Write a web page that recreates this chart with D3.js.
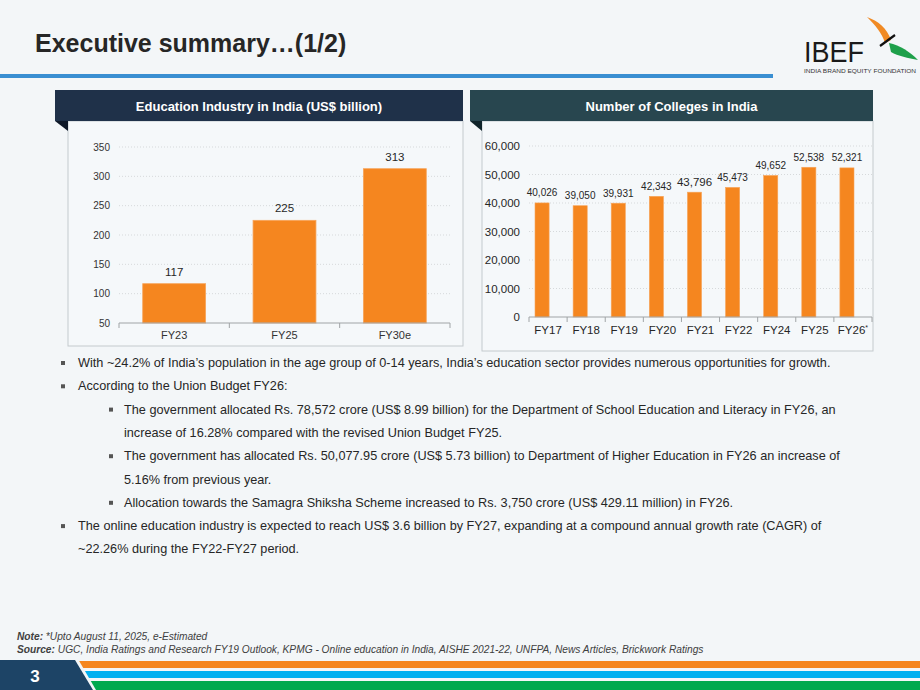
<!DOCTYPE html>
<html>
<head>
<meta charset="utf-8">
<title>Executive summary</title>
<script src="https://d3js.org/d3.v7.min.js"></script>
<style>
  body { margin: 0; background: #f3f6f8; }
  svg { display: block; font-family: "Liberation Sans", Arial, sans-serif; }
</style>
</head>
<body>
<script>
// ---- data ----
var eduCats = ["FY23", "FY25", "FY30e"];
var eduVals = [117, 225, 313];
var eduTicks = [50, 100, 150, 200, 250, 300, 350];

var colCats = ["FY17", "FY18", "FY19", "FY20", "FY21", "FY22", "FY24", "FY25", "FY26*"];
var colVals = [40026, 39050, 39931, 42343, 43796, 45473, 49652, 52538, 52321];
var colTicks = [0, 10000, 20000, 30000, 40000, 50000, 60000];

var bullets = [
  {lvl: 1, lines: ["With ~24.2% of India\u2019s population in the age group of 0-14 years, India\u2019s education sector provides numerous opportunities for growth."]},
  {lvl: 1, lines: ["According to the Union Budget FY26:"]},
  {lvl: 2, lines: ["The government allocated Rs. 78,572 crore (US$ 8.99 billion) for the Department of School Education and Literacy in FY26, an",
                   "increase of 16.28% compared with the revised Union Budget FY25."]},
  {lvl: 2, lines: ["The government has allocated Rs. 50,077.95 crore (US$ 5.73 billion) to Department of Higher Education in FY26 an increase of",
                   "5.16% from previous year."]},
  {lvl: 2, lines: ["Allocation towards the Samagra Shiksha Scheme increased to Rs. 3,750 crore (US$ 429.11 million) in FY26."]},
  {lvl: 1, lines: ["The online education industry is expected to reach US$ 3.6 billion by FY27, expanding at a compound annual growth rate (CAGR) of",
                   "~22.26% during the FY22-FY27 period."]}
];

var w = 920, h = 690;
var orange = "#f5861f";

var svg = d3.select("body").append("svg")
  .attr("width", w)
  .attr("height", h);

svg.append("rect").attr("width", w).attr("height", h).attr("fill", "#f3f6f8");

// ---- title + rule ----
svg.append("text")
  .attr("x", 35).attr("y", 52)
  .attr("font-size", 25).attr("font-weight", "bold")
  .attr("fill", "#262626")
  .text("Executive summary\u2026(1/2)");

svg.append("rect").attr("x", 0).attr("y", 74).attr("width", 773).attr("height", 4).attr("fill", "#3a8fd2");

// ---- logo ----
var logo = svg.append("g");
logo.append("text")
  .attr("x", 804).attr("y", 62)
  .attr("font-size", 29)
  .attr("textLength", 60).attr("lengthAdjust", "spacingAndGlyphs")
  .attr("fill", "#1a1a1a")
  .text("IBEF");
logo.append("text")
  .attr("x", 804).attr("y", 73)
  .attr("font-size", 5.5)
  .attr("textLength", 112).attr("lengthAdjust", "spacingAndGlyphs")
  .attr("fill", "#333")
  .text("INDIA BRAND EQUITY FOUNDATION");
logo.append("path")
  .attr("d", "M867,17 C878,21 887,28 891,40 L885,43 C882,33 875,25 867,17 Z")
  .attr("fill", "#f08a24");
logo.append("path")
  .attr("d", "M889,43 C900,45 910,52 918,60 C908,58 898,56 891,52 Z")
  .attr("fill", "#1ea04a");
logo.append("line")
  .attr("x1", 880).attr("y1", 46).attr("x2", 895).attr("y2", 35)
  .attr("stroke", "#111").attr("stroke-width", 2.2);

// ---- panel helper ----
function panel(hx0, hx1, bx0, by1, title, hdrColor, foldColor) {
  svg.append("rect")
    .attr("x", bx0).attr("y", 121).attr("width", hx1 - bx0).attr("height", by1 - 121)
    .attr("fill", "#f5f8fa").attr("stroke", "#c4cacd").attr("stroke-width", 1);
  svg.append("rect")
    .attr("x", hx0).attr("y", 90).attr("width", hx1 - hx0).attr("height", 31)
    .attr("fill", hdrColor);
  svg.append("path")
    .attr("d", "M" + hx0 + ",121 L" + bx0 + ",121 L" + bx0 + ",131 Z")
    .attr("fill", foldColor);
  svg.append("text")
    .attr("x", (hx0 + hx1) / 2).attr("y", 110.5)
    .attr("text-anchor", "middle")
    .attr("font-size", 13).attr("font-weight", "bold")
    .attr("fill", "#ffffff")
    .text(title);
}

panel(55, 463, 68, 346, "Education Industry in India (US$ billion)", "#1f3149", "#0e1828");
panel(470, 873, 482, 351, "Number of Colleges in India", "#28464f", "#10242a");

// ---- left chart ----
var x1 = d3.scaleBand().domain(eduCats).range([119, 450]).paddingInner(0.43).paddingOuter(0.215);
var y1 = d3.scaleLinear().domain([50, 350]).range([323, 147]);
var step1 = (450 - 119) / eduCats.length;

var g1 = svg.append("g");
g1.selectAll("line.grid")
  .data(eduTicks.slice(1))
  .enter().append("line")
  .attr("class", "grid")
  .attr("x1", 119).attr("x2", 450)
  .attr("y1", function(d) { return y1(d); })
  .attr("y2", function(d) { return y1(d); })
  .attr("stroke", "#d6d9db").attr("stroke-dasharray", "1,2");

var ax1 = g1.append("g")
  .attr("transform", "translate(113,0)")
  .call(d3.axisLeft(y1).tickValues(eduTicks).tickSize(0).tickPadding(3));
ax1.select(".domain").remove();
ax1.selectAll("text").attr("font-size", 10).attr("fill", "#333").attr("font-family", "Liberation Sans, Arial, sans-serif");

g1.selectAll("rect.bar")
  .data(eduVals)
  .enter().append("rect")
  .attr("class", "bar")
  .attr("x", function(d, i) { return x1(eduCats[i]); })
  .attr("y", function(d) { return y1(d); })
  .attr("width", x1.bandwidth())
  .attr("height", function(d) { return y1(50) - y1(d); })
  .attr("fill", orange).attr("stroke", "#f7a45a").attr("stroke-width", 0.8);

g1.selectAll("text.val")
  .data(eduVals)
  .enter().append("text")
  .attr("class", "val")
  .attr("x", function(d, i) { return x1(eduCats[i]) + x1.bandwidth() / 2; })
  .attr("y", function(d) { return y1(d) - 8; })
  .attr("text-anchor", "middle")
  .attr("font-size", 11.5).attr("fill", "#262626")
  .text(function(d) { return d; });

// category axis with separator ticks
g1.append("line").attr("x1", 119).attr("x2", 450).attr("y1", 323).attr("y2", 323)
  .attr("stroke", "#a0a4a6");
g1.selectAll("line.sep")
  .data(d3.range(eduCats.length + 1))
  .enter().append("line")
  .attr("class", "sep")
  .attr("x1", function(i) { return 119 + i * step1; })
  .attr("x2", function(i) { return 119 + i * step1; })
  .attr("y1", 323).attr("y2", 328)
  .attr("stroke", "#a0a4a6");
var xa1 = g1.append("g")
  .attr("transform", "translate(0,323)")
  .call(d3.axisBottom(x1).tickSize(0).tickPadding(8));
xa1.select(".domain").remove();
xa1.selectAll("text").attr("font-size", 11).attr("fill", "#333").attr("font-family", "Liberation Sans, Arial, sans-serif");

// ---- right chart ----
var x2 = d3.scaleBand().domain(colCats).range([529, 872]);
var y2 = d3.scaleLinear().domain([0, 60000]).range([317, 146]);
var barShift = -6;
var barW = x2.step() * 0.37;

var g2 = svg.append("g");
g2.selectAll("line.grid")
  .data(colTicks.slice(1))
  .enter().append("line")
  .attr("class", "grid")
  .attr("x1", 529).attr("x2", 872)
  .attr("y1", function(d) { return y2(d); })
  .attr("y2", function(d) { return y2(d); })
  .attr("stroke", "#d6d9db").attr("stroke-dasharray", "1,2");

var ax2 = g2.append("g")
  .attr("transform", "translate(524,0)")
  .call(d3.axisLeft(y2).tickValues(colTicks).tickFormat(d3.format(",")).tickSize(0).tickPadding(4));
ax2.select(".domain").remove();
ax2.selectAll("text").attr("font-size", 11.5).attr("fill", "#262626").attr("font-family", "Liberation Sans, Arial, sans-serif");

g2.selectAll("rect.bar")
  .data(colVals)
  .enter().append("rect")
  .attr("class", "bar")
  .attr("x", function(d, i) { return x2(colCats[i]) + x2.step() / 2 + barShift - barW / 2; })
  .attr("y", function(d) { return y2(d); })
  .attr("width", barW)
  .attr("height", function(d) { return y2(0) - y2(d); })
  .attr("fill", orange).attr("stroke", "#f7a45a").attr("stroke-width", 0.6);

g2.selectAll("text.val")
  .data(colVals)
  .enter().append("text")
  .attr("class", "val")
  .attr("x", function(d, i) { return x2(colCats[i]) + x2.step() / 2 + barShift; })
  .attr("y", function(d) { return y2(d) - 6.5; })
  .attr("text-anchor", "middle")
  .attr("font-size", function(d, i) { return i === 4 ? 11.5 : 10; })
  .attr("fill", "#262626")
  .text(function(d) { return d3.format(",")(d); });

g2.append("line").attr("x1", 529).attr("x2", 872).attr("y1", 317).attr("y2", 317)
  .attr("stroke", "#a0a4a6");
g2.selectAll("line.sep")
  .data(d3.range(colCats.length + 1))
  .enter().append("line")
  .attr("class", "sep")
  .attr("x1", function(i) { return 529 + i * x2.step(); })
  .attr("x2", function(i) { return 529 + i * x2.step(); })
  .attr("y1", 317).attr("y2", 322)
  .attr("stroke", "#a0a4a6");
var xa2 = g2.append("g")
  .attr("transform", "translate(0,317)")
  .call(d3.axisBottom(x2).tickSize(0).tickPadding(9));
xa2.select(".domain").remove();
xa2.selectAll("text")
  .attr("font-size", 11.5).attr("fill", "#262626").attr("font-family", "Liberation Sans, Arial, sans-serif")
  .each(function(d) {
    if (d.slice(-1) === "*") {
      var t = d3.select(this).text(d.slice(0, -1));
      t.append("tspan").attr("font-size", 7).attr("dy", -4).text("*");
    }
  });

// ---- bullets ----
var lineY = 367, lineGap = 23.3;
var tg = svg.append("g").attr("font-size", 12.7).attr("fill", "#262626");
bullets.forEach(function(b) {
  var bx = b.lvl === 1 ? 63 : 111;
  var tx = b.lvl === 1 ? 78 : 124;
  tg.append("rect")
    .attr("x", bx - 2).attr("y", lineY - 6).attr("width", 4).attr("height", 4)
    .attr("fill", "#555");
  b.lines.forEach(function(l) {
    tg.append("text").attr("x", tx).attr("y", lineY).text(l);
    lineY += lineGap;
  });
});

// ---- footer notes ----
var note = svg.append("text").attr("x", 17).attr("y", 640)
  .attr("font-size", 10.2).attr("font-style", "italic").attr("fill", "#404040");
note.append("tspan").attr("font-weight", "bold").text("Note:");
note.append("tspan").text(" *Upto August 11, 2025, e-Estimated");

var src = svg.append("text").attr("x", 17).attr("y", 653)
  .attr("font-size", 10.2).attr("font-style", "italic").attr("fill", "#404040");
src.append("tspan").attr("font-weight", "bold").text("Source:");
src.append("tspan").text(" UGC, India Ratings and Research FY19 Outlook, KPMG - Online education in India, AISHE 2021-22, UNFPA, News Articles, Brickwork Ratings");

// ---- bottom stripes ----
svg.append("rect").attr("x", 70).attr("y", 661).attr("width", 850).attr("height", 7).attr("fill", "#f5861f");
svg.append("rect").attr("x", 70).attr("y", 671).attr("width", 850).attr("height", 7).attr("fill", "#00b0f0");
svg.append("rect").attr("x", 70).attr("y", 681).attr("width", 850).attr("height", 9).attr("fill", "#00a94f");
svg.append("path").attr("d", "M0,659 L78,659 L96,690 L0,690 Z").attr("fill", "#f3f6f8");
svg.append("path").attr("d", "M0,660 L75,660 L93,690 L0,690 Z").attr("fill", "#1d4466");
svg.append("text").attr("x", 35).attr("y", 682)
  .attr("text-anchor", "middle")
  .attr("font-size", 17).attr("font-weight", "bold").attr("fill", "#fff")
  .text("3");
</script>
</body>
</html>
